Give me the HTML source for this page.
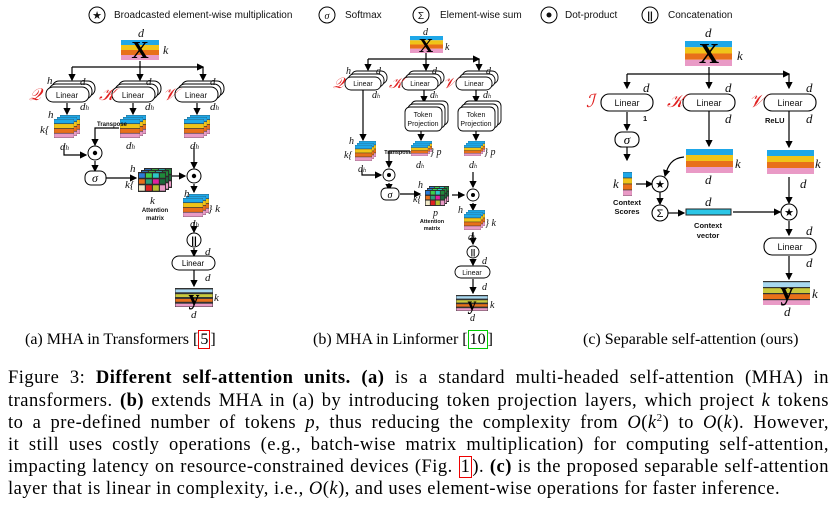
<!DOCTYPE html>
<html><head><meta charset="utf-8"><style>
body{margin:0;background:#fff;width:840px;height:509px;overflow:hidden;position:relative}
svg{position:absolute;left:0;top:0}
.cap{position:absolute;font-family:"Liberation Serif",serif;font-size:16px;top:331px;white-space:nowrap}
.ln{position:absolute;left:8px;width:821px;font-family:"Liberation Serif",serif;font-size:18.5px;letter-spacing:0.5px;text-align:justify;text-align-last:justify;white-space:nowrap;height:22px;line-height:22px}
.ln sup{line-height:0;font-size:11px}
.rb{border:1px solid #e00;padding:0 1px}.gb{border:1px solid #0c0;padding:0 1px}
</style></head><body>
<svg width="840" height="509" viewBox="0 0 840 509" font-family="Liberation Sans,sans-serif">
<defs>
<symbol id="st" viewBox="0 0 40 20" preserveAspectRatio="none"><rect y="0" width="40" height="5" fill="#1ea7e8"/><rect y="5" width="40" height="5" fill="#f0c419"/><rect y="10" width="40" height="5" fill="#e8701a"/><rect y="15" width="40" height="5" fill="#e99ac6"/></symbol>
<symbol id="sy" viewBox="0 0 40 20" preserveAspectRatio="none"><rect width="40" height="20" fill="#333"/><rect y="1" width="40" height="4" fill="#a8d8f0"/><rect y="6" width="40" height="4" fill="#c9c93c"/><rect y="11" width="40" height="4" fill="#e8701a"/><rect y="16" width="40" height="4" fill="#e99ac6"/></symbol>
<symbol id="am" viewBox="0 0 40 20" preserveAspectRatio="none"><rect width="40" height="20" fill="#222"/><rect x="1" y="1" width="9" height="5" fill="#2a7bd8"/><rect x="11" y="1" width="9" height="5" fill="#3ccf4a"/><rect x="21" y="1" width="9" height="5" fill="#2bc7c7"/><rect x="31" y="1" width="8" height="5" fill="#1e8a3a"/><rect x="1" y="7" width="9" height="5" fill="#e8701a"/><rect x="11" y="7" width="9" height="5" fill="#2aa07a"/><rect x="21" y="7" width="9" height="5" fill="#e020a0"/><rect x="31" y="7" width="8" height="5" fill="#1a6a3a"/><rect x="1" y="13" width="9" height="6" fill="#f0e8c8"/><rect x="11" y="13" width="9" height="6" fill="#e02020"/><rect x="21" y="13" width="9" height="6" fill="#b8c030"/><rect x="31" y="13" width="8" height="6" fill="#e99ac6"/></symbol>
<marker id="a" markerWidth="6" markerHeight="6" refX="5" refY="3" orient="auto"><path d="M0,0L6,3L0,6z" fill="#000"/></marker>
</defs>
<g font-size="10" fill="#111">
<circle cx="97" cy="15" r="8" fill="none" stroke="#000"/><text x="97" y="19" text-anchor="middle" font-size="11">★</text><text x="114" y="18">Broadcasted element-wise multiplication</text>
<circle cx="327" cy="15" r="8" fill="none" stroke="#000"/><text x="327" y="19" text-anchor="middle" font-style="italic" font-family="Liberation Serif">σ</text><text x="345" y="18">Softmax</text>
<circle cx="421" cy="15" r="8" fill="none" stroke="#000"/><text x="421" y="19" text-anchor="middle">Σ</text><text x="440" y="18">Element-wise sum</text>
<circle cx="549" cy="15" r="8" fill="none" stroke="#000"/><circle cx="549" cy="15" r="2.5"/><text x="565" y="18">Dot-product</text>
<circle cx="650" cy="15" r="8" fill="none" stroke="#000"/><text x="650" y="19" text-anchor="middle" font-weight="bold">||</text><text x="668" y="18">Concatenation</text>
</g>
<g stroke="#000" stroke-width="1.2" fill="none" marker-end="url(#a)">
<path d="M140 61V80"/><path d="M72 67H203"/><path d="M72 67V80"/><path d="M203 67V80"/>
<path d="M67 103V114"/><path d="M133 103V114"/><path d="M197 103V114"/>
<path d="M64 146V155H86"/><path d="M119 128H95V145"/><path d="M95 161V171"/><path d="M106 178H136"/><path d="M172 176H185"/><path d="M194 146V168"/><path d="M194 184V192"/><path d="M194 222V232"/><path d="M194 248V256"/><path d="M194 270V286"/>
<path d="M426 53V70"/><path d="M368 59H479"/><path d="M368 59V70"/><path d="M479 59V70"/>
<path d="M363 88V140"/><path d="M424 88V102"/><path d="M476 88V102"/><path d="M421 130V140"/><path d="M476 130V140"/>
<path d="M362 168V175H381"/><path d="M410 151H389V167"/><path d="M389 183V190"/><path d="M400 194H420"/><path d="M452 195H464"/><path d="M473 172V187"/><path d="M473 203V210"/><path d="M473 232V244"/><path d="M473 260V265"/><path d="M473 279V293"/>
<path d="M709 67V88"/><path d="M627 74H789"/><path d="M627 74V88"/><path d="M789 74V88"/>
<path d="M627 112V130"/><path d="M627 147V160"/><path d="M709 111V146"/><path d="M789 111V147"/><path d="M789 177V203"/>
<path d="M636 184H652"/><path d="M684 157C672 158 668 165 665 176"/><path d="M660 192V204"/><path d="M668 213H684"/><path d="M733 212H780"/><path d="M789 221V235"/><path d="M789 256V279"/>
</g>
<use href="#st" x="121" y="40" width="38" height="20"/><text x="140" y="58" font-size="24" font-weight="bold" text-anchor="middle" font-family="Liberation Serif">X</text>
<g font-family="Liberation Serif" font-style="italic" font-size="12" fill="#111">
<text x="138" y="37">d</text><text x="163" y="54">k</text>
</g>
<g fill="#fff" stroke="#000" stroke-width="1">
<rect x="52" y="81" width="43" height="15" rx="7"/><rect x="49" y="84" width="43" height="15" rx="7"/><rect x="46" y="87" width="43" height="15" rx="7"/>
<rect x="118" y="81" width="43" height="15" rx="7"/><rect x="115" y="84" width="43" height="15" rx="7"/><rect x="112" y="87" width="43" height="15" rx="7"/>
<rect x="181" y="81" width="43" height="15" rx="7"/><rect x="178" y="84" width="43" height="15" rx="7"/><rect x="175" y="87" width="43" height="15" rx="7"/>
</g>
<g font-size="8" text-anchor="middle" fill="#111"><text x="67" y="98">Linear</text><text x="133" y="98">Linear</text><text x="196" y="98">Linear</text></g>
<g font-family="Liberation Serif" font-style="italic" font-size="17" fill="#e02020"><text x="29" y="100">𝒬</text><text x="99" y="100">𝒦</text><text x="163" y="100">𝒱</text></g>
<g font-family="Liberation Serif" font-style="italic" font-size="11" fill="#111">
<text x="47" y="84">h</text><text x="80" y="85">d</text><text x="80" y="110">d<tspan font-size="7">h</tspan></text>
<text x="146" y="85">d</text><text x="145" y="110">d<tspan font-size="7">h</tspan></text>
<text x="210" y="85">d</text><text x="210" y="110">d<tspan font-size="7">h</tspan></text>
</g>
<g stroke="#333" stroke-width=".6">
<use href="#st" x="60" y="115" width="20" height="19"/><use href="#st" x="57" y="117" width="20" height="19"/><use href="#st" x="54" y="119" width="20" height="19"/>
<use href="#st" x="126" y="115" width="20" height="19"/><use href="#st" x="123" y="117" width="20" height="19"/><use href="#st" x="120" y="119" width="20" height="19"/>
<use href="#st" x="190" y="115" width="20" height="19"/><use href="#st" x="187" y="117" width="20" height="19"/><use href="#st" x="184" y="119" width="20" height="19"/>
<use href="#am" x="144" y="168" width="28" height="20"/><use href="#am" x="141" y="170" width="28" height="20"/><use href="#am" x="138" y="172" width="28" height="20"/>
<use href="#st" x="189" y="194" width="20" height="19"/><use href="#st" x="186" y="196" width="20" height="19"/><use href="#st" x="183" y="198" width="20" height="19"/>
</g>
<g font-family="Liberation Serif" font-style="italic" font-size="11" fill="#111">
<text x="40" y="133">k{</text><text x="48" y="118">h</text><text x="60" y="150">d<tspan font-size="7">h</tspan></text><text x="126" y="149">d<tspan font-size="7">h</tspan></text><text x="190" y="149">d<tspan font-size="7">h</tspan></text>
<text x="125" y="188">k{</text><text x="130" y="172">h</text><text x="150" y="204">k</text><text x="184" y="197">h</text><text x="208" y="212">} k</text><text x="190" y="227">d<tspan font-size="7">h</tspan></text>
<text x="205" y="255">d</text><text x="205" y="281">d</text><text x="191" y="318">d</text><text x="214" y="301">k</text>
</g>
<g font-size="6" font-weight="bold" text-anchor="middle" fill="#111"><text x="112" y="126">Transpose</text><text x="155" y="212">Attention</text><text x="155" y="220">matrix</text></g>
<g fill="#fff" stroke="#000"><circle cx="95" cy="153" r="7"/><circle cx="194" cy="176" r="7"/><circle cx="194" cy="240" r="7"/><rect x="85" y="171" width="21" height="14" rx="6"/><rect x="172" y="256" width="43" height="14" rx="7"/></g>
<circle cx="95" cy="153" r="2.2"/><circle cx="194" cy="176" r="2.2"/><text x="194" y="244" font-size="10" font-weight="bold" text-anchor="middle">||</text>
<text x="95" y="182" font-size="12" font-style="italic" text-anchor="middle" font-family="Liberation Serif">σ</text><text x="193" y="266" font-size="8" text-anchor="middle">Linear</text>
<use href="#sy" x="175" y="288" width="38" height="19" stroke="#333"/><text x="194" y="305" font-size="22" font-weight="bold" text-anchor="middle" font-family="Liberation Serif">y</text>
<use href="#st" x="410" y="36" width="33" height="17"/><text x="426" y="52" font-size="20" font-weight="bold" text-anchor="middle" font-family="Liberation Serif">X</text>
<g fill="#fff" stroke="#000" stroke-width=".9">
<rect x="351" y="71" width="36" height="13" rx="6"/><rect x="348" y="74" width="36" height="13" rx="6"/><rect x="345" y="77" width="36" height="13" rx="6"/>
<rect x="408" y="71" width="36" height="13" rx="6"/><rect x="405" y="74" width="36" height="13" rx="6"/><rect x="402" y="77" width="36" height="13" rx="6"/>
<rect x="462" y="71" width="36" height="13" rx="6"/><rect x="459" y="74" width="36" height="13" rx="6"/><rect x="456" y="77" width="36" height="13" rx="6"/>
<rect x="411" y="101" width="37" height="24" rx="5"/><rect x="408" y="104" width="37" height="24" rx="5"/><rect x="405" y="107" width="37" height="24" rx="5"/>
<rect x="464" y="101" width="37" height="24" rx="5"/><rect x="461" y="104" width="37" height="24" rx="5"/><rect x="458" y="107" width="37" height="24" rx="5"/>
<circle cx="389" cy="175" r="6"/><rect x="381" y="188" width="18" height="12" rx="5"/><circle cx="473" cy="195" r="6"/><circle cx="473" cy="252" r="6"/><rect x="455" y="266" width="35" height="12" rx="6"/>
</g>
<g font-size="7" text-anchor="middle" fill="#111"><text x="363" y="86">Linear</text><text x="420" y="86">Linear</text><text x="474" y="86">Linear</text>
<text x="423" y="117">Token</text><text x="423" y="126">Projection</text><text x="476" y="117">Token</text><text x="476" y="126">Projection</text><text x="472" y="275">Linear</text></g>
<g font-size="5.5" font-weight="bold" text-anchor="middle" fill="#111"><text x="398" y="154">Transpose</text><text x="432" y="223">Attention</text><text x="432" y="230">matrix</text></g>
<circle cx="389" cy="175" r="2"/><circle cx="473" cy="195" r="2"/><text x="473" y="255" font-size="8" font-weight="bold" text-anchor="middle">||</text><text x="390" y="198" font-size="10" font-style="italic" text-anchor="middle" font-family="Liberation Serif">σ</text>
<g font-family="Liberation Serif" font-style="italic" font-size="15" fill="#e02020"><text x="333" y="88">𝒬</text><text x="389" y="88">𝒦</text><text x="443" y="88">𝒱</text></g>
<g stroke="#333" stroke-width=".5">
<use href="#st" x="359" y="141" width="17" height="16"/><use href="#st" x="357" y="143" width="17" height="16"/><use href="#st" x="355" y="145" width="17" height="16"/>
<use href="#st" x="415" y="141" width="17" height="11"/><use href="#st" x="413" y="143" width="17" height="11"/><use href="#st" x="411" y="145" width="17" height="11"/>
<use href="#st" x="468" y="141" width="17" height="11"/><use href="#st" x="466" y="143" width="17" height="11"/><use href="#st" x="464" y="145" width="17" height="11"/>
<use href="#am" x="429" y="186" width="20" height="16"/><use href="#am" x="427" y="188" width="20" height="16"/><use href="#am" x="425" y="190" width="20" height="16"/>
<use href="#st" x="468" y="210" width="17" height="16"/><use href="#st" x="466" y="212" width="17" height="16"/><use href="#st" x="464" y="214" width="17" height="16"/>
</g>
<use href="#sy" x="456" y="295" width="32" height="16" stroke="#333"/><text x="472" y="310" font-size="18" font-weight="bold" text-anchor="middle" font-family="Liberation Serif">y</text>
<g font-family="Liberation Serif" font-style="italic" font-size="10" fill="#111">
<text x="423" y="35">d</text><text x="445" y="50">k</text><text x="346" y="74">h</text><text x="376" y="74">d</text><text x="372" y="98">d<tspan font-size="6">h</tspan></text><text x="432" y="74">d</text><text x="430" y="98">d<tspan font-size="6">h</tspan></text><text x="486" y="74">d</text><text x="483" y="98">d<tspan font-size="6">h</tspan></text>
<text x="344" y="158">k{</text><text x="349" y="144">h</text><text x="358" y="172">d<tspan font-size="6">h</tspan></text><text x="430" y="155">} p</text><text x="416" y="168">d<tspan font-size="6">h</tspan></text><text x="484" y="155">} p</text><text x="469" y="168">d<tspan font-size="6">h</tspan></text>
<text x="413" y="202">k{</text><text x="418" y="188">h</text><text x="433" y="216">p</text><text x="458" y="213">h</text><text x="485" y="226">} k</text><text x="468" y="240">d<tspan font-size="6">h</tspan></text><text x="482" y="264">d</text><text x="482" y="290">d</text><text x="490" y="308">k</text><text x="470" y="321">d</text>
</g>
<use href="#st" x="685" y="41" width="47" height="25"/><text x="709" y="63" font-size="28" font-weight="bold" text-anchor="middle" font-family="Liberation Serif">X</text>
<g fill="#fff" stroke="#000" stroke-width="1.1">
<rect x="601" y="94" width="52" height="17" rx="8"/><rect x="683" y="94" width="52" height="17" rx="8"/><rect x="764" y="94" width="52" height="17" rx="8"/>
<rect x="615" y="132" width="24" height="15" rx="7"/><circle cx="660" cy="184" r="8"/><circle cx="660" cy="213" r="8"/><circle cx="789" cy="212" r="8"/><rect x="764" y="238" width="52" height="17" rx="8"/>
</g>
<g font-size="9" text-anchor="middle" fill="#111"><text x="627" y="106">Linear</text><text x="709" y="106">Linear</text><text x="790" y="106">Linear</text><text x="790" y="250">Linear</text></g>
<g font-size="7.5" font-weight="bold" fill="#111"><text x="765" y="123">ReLU</text><text x="643" y="121">1</text>
<text x="627" y="205" text-anchor="middle">Context</text><text x="627" y="214" text-anchor="middle">Scores</text><text x="708" y="228" text-anchor="middle">Context</text><text x="708" y="238" text-anchor="middle">vector</text></g>
<text x="627" y="144" font-size="13" font-style="italic" text-anchor="middle" font-family="Liberation Serif">σ</text>
<text x="660" y="188" font-size="11" text-anchor="middle">★</text><text x="660" y="217" font-size="11" text-anchor="middle">Σ</text><text x="789" y="216" font-size="11" text-anchor="middle">★</text>
<g font-family="Liberation Serif" font-style="italic" font-size="18" fill="#e02020"><text x="586" y="107">ℐ</text><text x="667" y="107">𝒦</text><text x="749" y="107">𝒱</text></g>
<use href="#st" x="686" y="149" width="47" height="24"/><use href="#st" x="767" y="150" width="47" height="24"/>
<use href="#st" x="623" y="172" width="9" height="24" stroke="#333" stroke-width=".5"/>
<rect x="686" y="209" width="45" height="6" fill="#2cc6e6" stroke="#222"/>
<use href="#sy" x="763" y="281" width="47" height="24"/><text x="787" y="300" font-size="26" font-weight="bold" text-anchor="middle" font-family="Liberation Serif">y</text>
<g font-family="Liberation Serif" font-style="italic" font-size="13" fill="#111">
<text x="705" y="37">d</text><text x="737" y="60">k</text><text x="643" y="92">d</text><text x="725" y="92">d</text><text x="806" y="92">d</text><text x="725" y="123">d</text><text x="806" y="123">d</text>
<text x="735" y="168">k</text><text x="705" y="184">d</text><text x="815" y="168">k</text><text x="800" y="188">d</text><text x="613" y="188">k</text><text x="705" y="206">d</text>
<text x="806" y="235">d</text><text x="806" y="267">d</text><text x="812" y="298">k</text><text x="784" y="316">d</text>
</g>
</svg>
<div class="cap" style="left:25px">(a) MHA in Transformers [<span class="rb">5</span>]</div>
<div class="cap" style="left:313px">(b) MHA in Linformer [<span class="gb">10</span>]</div>
<div class="cap" style="left:583px">(c) Separable self-attention (ours)</div>
<div class="ln" style="top:367px">Figure 3: <b>Different self-attention units.</b> <b>(a)</b> is a standard multi-headed self-attention (MHA) in</div>
<div class="ln" style="top:390px">transformers. <b>(b)</b> extends MHA in (a) by introducing token projection layers, which project <i>k</i> tokens</div>
<div class="ln" style="top:412px">to a pre-defined number of tokens <i>p</i>, thus reducing the complexity from <i>O</i>(<i>k</i><sup>2</sup>) to <i>O</i>(<i>k</i>). However,</div>
<div class="ln" style="top:434px">it still uses costly operations (e.g., batch-wise matrix multiplication) for computing self-attention,</div>
<div class="ln" style="top:456px">impacting latency on resource-constrained devices (Fig. <span class="rb">1</span>). <b>(c)</b> is the proposed separable self-attention</div>
<div class="ln" style="top:478px;text-align-last:left">layer that is linear in complexity, i.e., <i>O</i>(<i>k</i>), and uses element-wise operations for faster inference.</div>
</body></html>
